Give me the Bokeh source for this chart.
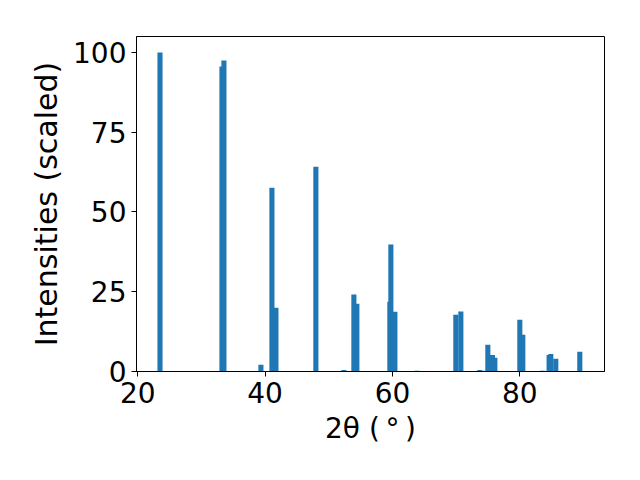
from bokeh.plotting import figure
from bokeh.models import Range1d, FixedTicker, ColumnDataSource
from bokeh.embed import file_html
from bokeh.resources import INLINE

# Peak positions (2theta, degrees) and scaled intensities
two_theta = [23.49, 33.22, 33.53, 39.34, 41.07, 41.70, 47.97, 52.37, 53.94, 54.41,
             59.59, 59.75, 60.38, 63.83, 69.95, 70.74, 73.72, 74.66, 74.98, 75.70,
             76.08, 80.00, 80.47, 83.60, 84.60, 84.87, 85.65, 89.42]
intensities = [100.0, 95.6, 97.5, 2.1, 57.6, 20.0, 64.2, 0.5, 24.1, 21.2,
               21.9, 39.8, 18.7, 0.2, 17.8, 18.8, 0.5, 0.2, 8.4, 5.2,
               4.3, 16.2, 11.5, 0.2, 5.2, 5.5, 4.0, 6.2]
x_ticks = [20, 40, 60, 80]
y_ticks = [0, 25, 50, 75, 100]
bar_width = 0.8

FONT = "DejaVu Sans"

p = figure(width=624, height=464, output_backend="svg", toolbar_location=None,
           x_range=Range1d(19.8, 93.3), y_range=Range1d(0, 105),
           min_border_left=136, min_border_right=20, min_border_top=36,
           min_border_bottom=93)

src = ColumnDataSource(dict(x=two_theta, top=intensities))
p.vbar(x="x", top="top", bottom=0, width=bar_width, source=src,
       fill_color="#1f77b4", line_color=None)

p.xgrid.visible = False
p.ygrid.visible = False
p.outline_line_color = "black"
p.outline_line_width = 1
p.background_fill_color = "white"
p.border_fill_color = "white"

p.xaxis.ticker = FixedTicker(ticks=x_ticks)
p.yaxis.ticker = FixedTicker(ticks=y_ticks)
p.xaxis.axis_label = "2θ (\u2009°\u2009)"
p.yaxis.axis_label = "Intensities (scaled)"

for ax in (p.xaxis, p.yaxis):
    ax.axis_line_color = "black"
    ax.major_tick_line_color = "black"
    ax.major_tick_out = 5
    ax.major_tick_in = 0
    ax.minor_tick_line_color = None
    ax.major_label_text_font = FONT
    ax.major_label_text_font_size = "28px"
    ax.major_label_text_color = "black"
    ax.axis_label_text_font = FONT
    ax.axis_label_text_font_style = "normal"
    ax.axis_label_text_color = "black"
    ax.major_label_standoff = 5

p.xaxis.axis_label_text_font_size = "28px"
p.yaxis.axis_label_text_font_size = "30px"
p.xaxis.axis_label_standoff = 6
p.yaxis.axis_label_standoff = 6

open("out.html", "w").write(file_html(p, INLINE))
